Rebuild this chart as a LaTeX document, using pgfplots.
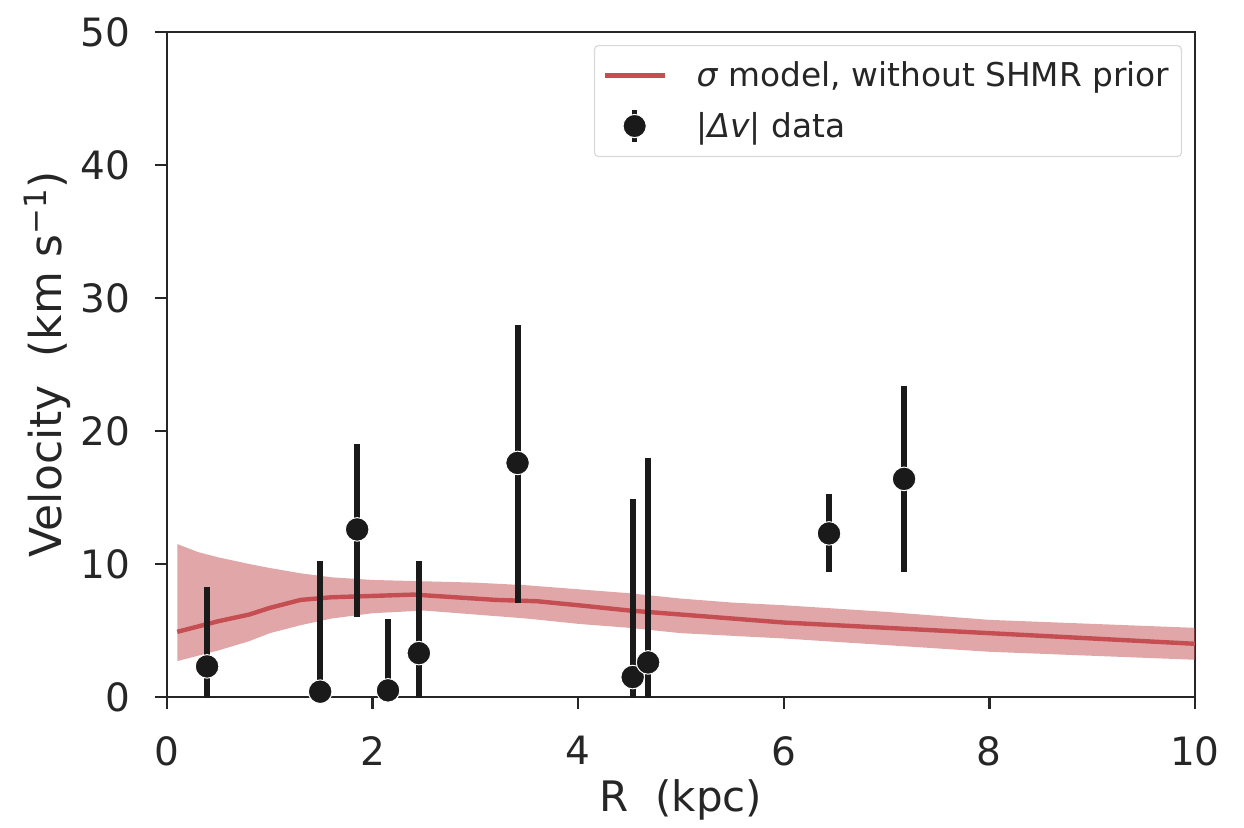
\documentclass[border=0pt]{standalone}
\usepackage{fontspec}
\setmainfont{DejaVu Sans}
\usepackage{pgfplots}
\pgfplotsset{compat=1.18}
\usepgfplotslibrary{fillbetween}
\definecolor{sred}{HTML}{C44E52}
\definecolor{dgray}{HTML}{262626}
\definecolor{mk}{HTML}{1A1A1A}
\begin{document}
\begin{tikzpicture}
\begin{axis}[
  scale only axis,
  width=514pt, height=332.5pt,
  xmin=0, xmax=10, ymin=0, ymax=50,
  xtick={0,2,4,6,8,10}, ytick={0,10,20,30,40,50},
  axis line style={dgray, line width=1.2pt},
  tick style={dgray, line width=1.2pt},
  tick align=outside, major tick length=6pt,
  xtick pos=bottom, ytick pos=left,
  tick label style={font=\fontsize{19.5}{22}\selectfont, text=dgray},
  xticklabel style={yshift=-10pt},
  yticklabel style={xshift=-9pt},
  /pgf/number format/assume math mode=true,
  xlabel={R\ \ (kpc)}, ylabel={Velocity\ \ (km s\textsuperscript{−1})},
  xlabel style={font=\fontsize{21}{24}\selectfont, text=dgray, yshift=0pt},
  ylabel style={font=\fontsize{22}{25}\selectfont, text=dgray, yshift=-2pt},
  legend style={at={(1,1)}, anchor=north east, xshift=-6.5pt, yshift=-6.5pt,
    draw=black!15, rounded corners=2pt, line width=0.6pt,
    font=\fontsize{16.4}{19}\selectfont, text=dgray,
    inner xsep=4pt, inner ysep=6pt, row sep=7pt},
  legend cell align=left,
]
\addplot[name path=up, draw=none, forget plot] coordinates {
(0.1,11.5) (0.3,10.9) (0.5,10.5) (0.8,10.0) (1.0,9.7) (1.3,9.3) (1.6,9.0) (2.0,8.8) (2.5,8.7) (3.0,8.6) (3.5,8.4) (4.0,8.1) (4.5,7.8) (5.0,7.4) (5.5,7.1) (6.0,6.9) (7.0,6.4) (8.0,5.8) (9.0,5.5) (10,5.2)};
\addplot[name path=lo, draw=none, forget plot] coordinates {
(0.1,2.7) (0.3,3.1) (0.5,3.5) (0.8,4.2) (1.0,4.8) (1.3,5.4) (1.6,5.9) (2.0,6.3) (2.5,6.5) (3.0,6.2) (3.5,5.9) (4.0,5.5) (4.5,5.2) (5.0,4.8) (5.5,4.6) (6.0,4.4) (7.0,3.9) (8.0,3.4) (9.0,3.1) (10,2.8)};
\addplot[fill=sred, fill opacity=0.5, draw=none, forget plot] fill between[of=up and lo];
\addplot[sred, line width=2.2pt, legend image code/.code={
    \path[draw=none, fill=none] (0pt,0pt) -- (44pt,0pt);
    \draw[sred, line width=2.2pt] (0pt,0pt) -- (30pt,0pt);}] coordinates {
(0.1,4.9) (0.3,5.3) (0.5,5.7) (0.8,6.2) (1.0,6.7) (1.3,7.3) (1.6,7.5) (2.0,7.6) (2.4,7.7) (2.8,7.5) (3.2,7.3) (3.6,7.2) (4.0,6.9) (4.5,6.5) (5.0,6.2) (5.5,5.9) (6.0,5.6) (6.5,5.4) (7.0,5.2) (7.5,5.0) (8.0,4.8) (8.5,4.6) (9.0,4.4) (9.5,4.2) (10,4.0)};
\addlegendentry{\textit{σ} model, without SHMR prior}
\addplot[only marks, mark=*, mark size=5.9pt,
  mark options={fill=mk, draw=white, line width=0.5pt},
  legend image code/.code={
    \path[draw=none, fill=none] (0pt,0pt) -- (44pt,0pt);
    \draw[mk, line width=2.5pt] (15pt,-8pt) -- (15pt,8pt);
    \fill[mk, draw=white, line width=0.5pt] (15pt,0pt) circle (5.8pt);},
  error bars/.cd, y dir=both, y explicit,
  error mark=none, error bar style={mk, line width=3pt},
  ] coordinates {
(0.39,2.3) += (0,6.0) -= (0,6.0)
(1.49,0.4) += (0,9.8) -= (0,9.8)
(1.85,12.6) += (0,6.4) -= (0,6.6)
(2.15,0.5) += (0,5.4) -= (0,5.4)
(2.45,3.3) += (0,6.9) -= (0,6.9)
(3.41,17.6) += (0,10.4) -= (0,10.5)
(4.53,1.5) += (0,13.4) -= (0,13.4)
(4.68,2.6) += (0,15.4) -= (0,15.4)
(6.44,12.3) += (0,3.0) -= (0,2.9)
(7.17,16.4) += (0,7.0) -= (0,7.0)
};
\addlegendentry{|\textit{Δv}| data}
\end{axis}
\path (current axis.south west) ++(-83.5pt,-65pt) rectangle ++(622pt,413.5pt);
\end{tikzpicture}
\end{document}
